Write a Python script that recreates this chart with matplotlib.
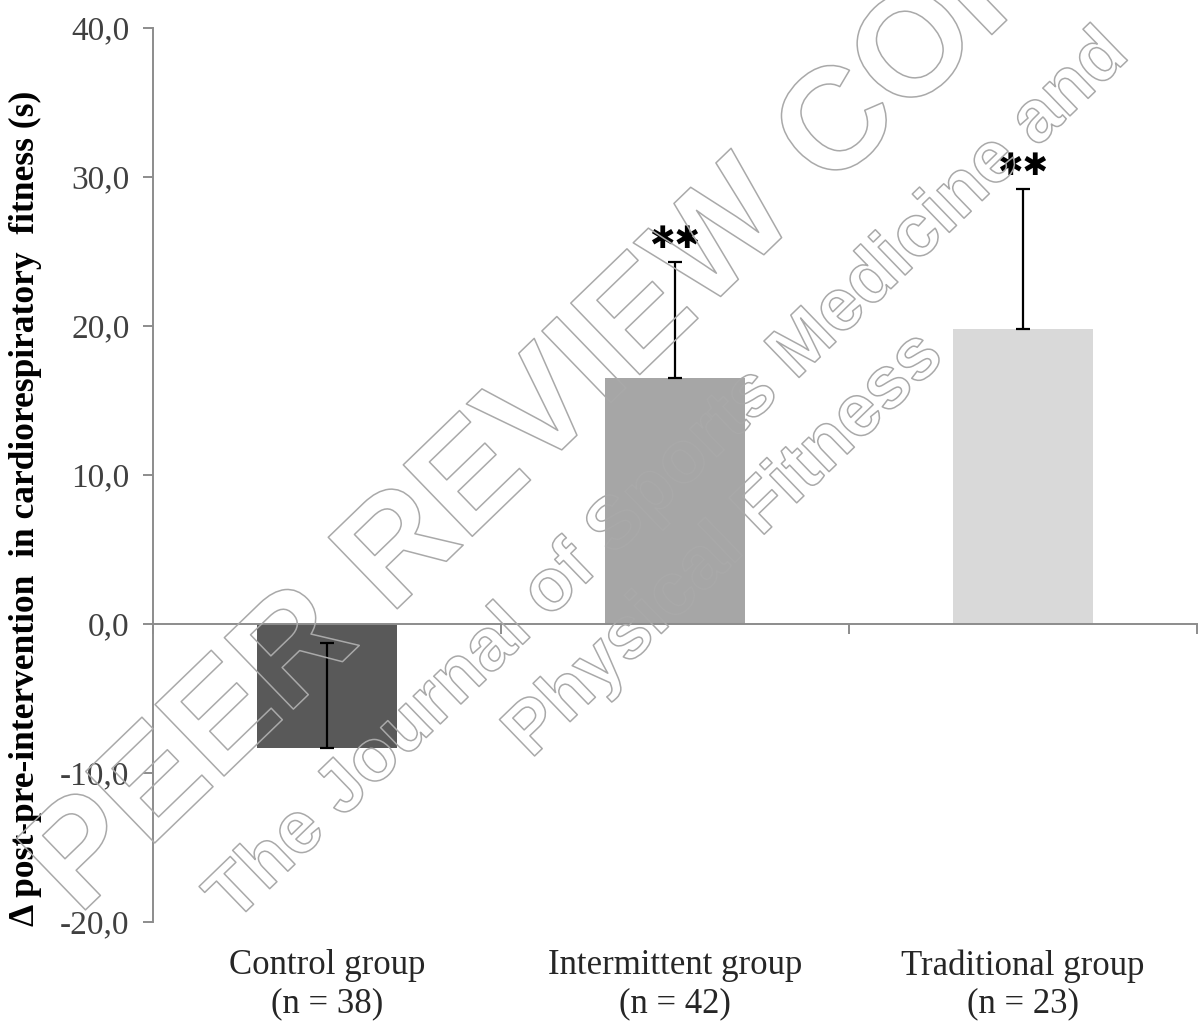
import matplotlib
matplotlib.use("Agg")
import matplotlib.pyplot as plt
import matplotlib.patheffects as pe

groups = ["Control group", "Intermittent group", "Traditional group"]
sizes = [38, 42, 23]
means = [-8.3, 16.5, 19.8]
sds = [7.0, 7.8, 9.4]
signif = ["", "\u2731\u2731", "\u2731\u2731"]
bar_colors = ["#595959", "#a6a6a6", "#d9d9d9"]

serif = "Liberation Serif"
axis_grey = "#8c8c8c"

fig = plt.figure(figsize=(12, 10.28), dpi=100)
ax = fig.add_axes([0.1275, 0.1031, 0.87, 0.8697])

xpos = [i + 0.5 for i in range(len(groups))]
ax.bar(xpos, means, width=0.4, color=bar_colors, zorder=2)

# only the upper half of each SD bar is shown
ax.errorbar(xpos, means, yerr=[[0] * len(sds), sds], fmt="none",
            ecolor="black", elinewidth=1.6, capsize=5, capthick=1.6, zorder=3)

for x, m, s, mark in zip(xpos, means, sds, signif):
    if mark:
        ax.annotate(mark, xy=(x, m + s), xytext=(0, 16), textcoords="offset points",
                    ha="center", va="center", fontsize=22,
                    family="DejaVu Sans", zorder=4)

ax.set_xlim(0, 3)
ax.set_ylim(-20, 40)
ax.set_yticks(range(-20, 41, 10))
ax.set_yticklabels([f"{v:.1f}".replace(".", ",") for v in range(-20, 41, 10)],
                   family=serif, fontsize=24, color="#404040")
ax.set_xticks([0, 1, 2, 3])
ax.set_xticklabels([])

for side in ["top", "right"]:
    ax.spines[side].set_visible(False)
ax.spines["bottom"].set_position(("data", 0))
for side in ["left", "bottom"]:
    ax.spines[side].set_color(axis_grey)
    ax.spines[side].set_linewidth(1.4)
ax.tick_params(axis="both", direction="out", length=7, width=1.4, color=axis_grey)
ax.tick_params(axis="y", pad=10)

for x, name, n in zip(xpos, groups, sizes):
    ax.text(x, -0.049, name, transform=ax.get_xaxis_transform(), ha="center",
            va="center", family=serif, fontsize=25, color="#262626")
    ax.text(x, -0.092, f"(n = {n})", transform=ax.get_xaxis_transform(), ha="center",
            va="center", family=serif, fontsize=25, color="#262626")

fig.text(0.021, 0.505, "\u0394 post-pre-intervention  in cardiorespiratory  fitness (s)",
         rotation=90, ha="center", va="center", family=serif, fontsize=25.5,
         fontweight="bold")

# hollow diagonal watermark
outline = [pe.Stroke(linewidth=1.1, foreground="#a9a9a9")]
wm = dict(family="Liberation Sans", fontweight="bold", color="none", rotation=44,
          ha="center", va="center", rotation_mode="anchor", path_effects=outline,
          zorder=10)
fig.text(575 / 1200, 1 - 385 / 1028, "PEER REVIEW COPY", fontsize=104, **wm)
fig.text(669 / 1200, 1 - 476 / 1028, "The Journal of Sports Medicine and",
         fontsize=53, **wm)
fig.text(725 / 1200, 1 - 545 / 1028, "Physical Fitness", fontsize=53, **wm)

fig.savefig("out.png", dpi=100)
